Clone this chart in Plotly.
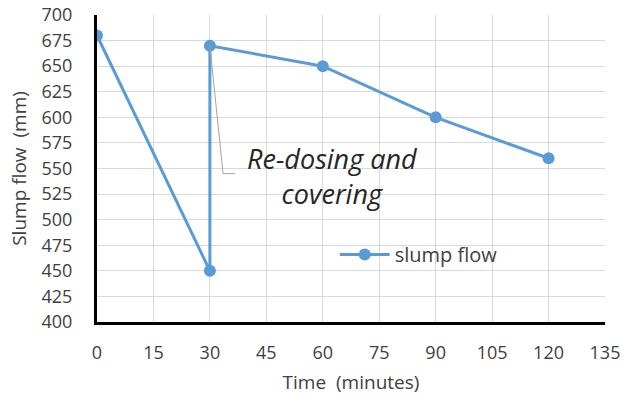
import plotly.graph_objects as go

time_min = [0, 30, 30, 60, 90, 120]
slump_flow = [680, 450, 670, 650, 600, 560]
x_ticks = [0, 15, 30, 45, 60, 75, 90, 105, 120, 135]
y_ticks = list(range(400, 701, 25))

blue = "#5B9BD5"
font_family = "Open Sans, Liberation Sans, sans-serif"

fig = go.Figure()
fig.add_trace(go.Scatter(
    x=time_min, y=slump_flow, mode="lines+markers", name="slump flow",
    line=dict(color=blue, width=3), marker=dict(color=blue, size=12),
))

# callout leader line
fig.add_trace(go.Scatter(
    x=[30, 33.5, 36.7], y=[670, 545, 545], mode="lines",
    line=dict(color="#A5A5A5", width=1), showlegend=False, hoverinfo="skip",
))

fig.add_annotation(
    x=62.7, y=543, xref="x", yref="y",
    text="<i>Re-dosing and<br>covering</i>", showarrow=False,
    font=dict(family=font_family, size=27, color="#262626"), align="center",
)

fig.update_layout(
    width=635, height=404,
    margin=dict(l=97, r=30, t=15, b=82, autoexpand=False),
    paper_bgcolor="white", plot_bgcolor="white",
    font=dict(family=font_family, size=18, color="#404040"),
    showlegend=True,
    legend=dict(x=0.468, y=0.22, xanchor="left", yanchor="middle",
                itemwidth=50,
                bgcolor="rgba(0,0,0,0)", font=dict(size=20, color="#404040")),
    xaxis=dict(
        range=[0, 135], tickvals=x_ticks, showgrid=True, gridcolor="#D9D9D9",
        gridwidth=1, showline=True, linecolor="black", linewidth=3,
        zeroline=False, ticks="", ticklabelstandoff=12, automargin=False,
        tickfont=dict(size=18),
        title=dict(text="Time  (minutes)", standoff=14, font=dict(size=19)),
    ),
    yaxis=dict(
        range=[400, 700], tickvals=y_ticks, showgrid=True, gridcolor="#D9D9D9",
        gridwidth=1, showline=True, linecolor="black", linewidth=3,
        zeroline=False, ticks="", ticklabelstandoff=18, automargin=False,
        tickfont=dict(size=18),
        title=dict(text="Slump flow  (mm)", standoff=10, font=dict(size=19)),
    ),
)

fig.write_html("out.html")
